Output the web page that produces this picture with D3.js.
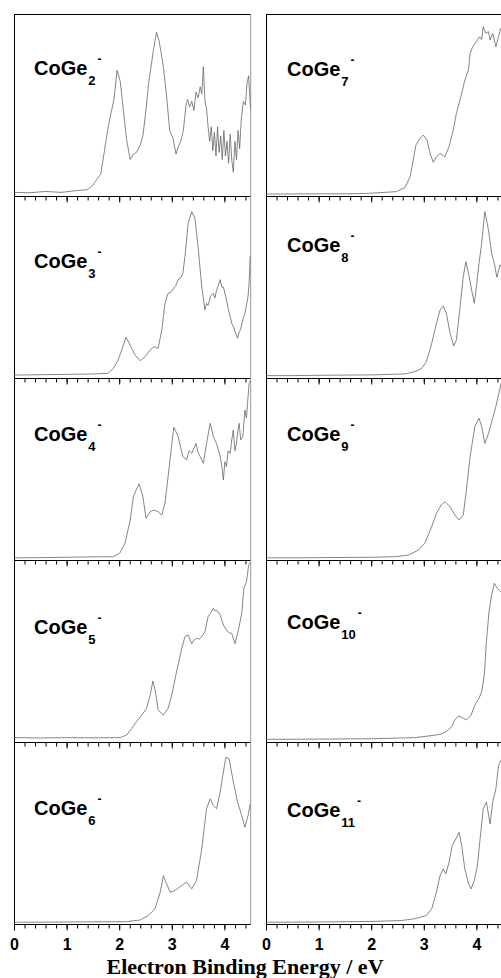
<!DOCTYPE html>
<html>
<head>
<meta charset="utf-8">
<script src="https://cdn.jsdelivr.net/npm/d3@7"></script>
<style>
  body { margin: 0; background: #fff; }
  text { fill: #000; }
</style>
</head>
<body>
<svg id="chart" width="501" height="978"></svg>
<script>
"use strict";

// photoelectron spectra, [binding energy (eV), relative intensity]
const coge2 = [[0,0.02],[0.3,0.018],[0.6,0.025],[0.9,0.02],[1.2,0.03],[1.4,0.035],[1.5,0.06],[1.57,0.09],[1.65,0.12],[1.72,0.25],[1.78,0.36],[1.84,0.45],[1.9,0.53],[1.96,0.69],[2.02,0.63],[2.08,0.47],[2.14,0.31],[2.21,0.2],[2.27,0.23],[2.33,0.24],[2.4,0.28],[2.45,0.33],[2.5,0.45],[2.56,0.62],[2.65,0.8],[2.71,0.9],[2.76,0.85],[2.84,0.71],[2.9,0.55],[2.96,0.36],[3.02,0.32],[3.08,0.23],[3.12,0.27],[3.17,0.3],[3.22,0.36],[3.27,0.5],[3.3,0.53],[3.34,0.49],[3.38,0.52],[3.42,0.47],[3.46,0.57],[3.5,0.54],[3.54,0.6],[3.57,0.56],[3.6,0.71],[3.63,0.52],[3.66,0.48],[3.69,0.38],[3.72,0.3],[3.75,0.38],[3.78,0.25],[3.81,0.35],[3.84,0.22],[3.87,0.38],[3.9,0.24],[3.93,0.33],[3.96,0.2],[3.99,0.36],[4.02,0.22],[4.05,0.3],[4.08,0.18],[4.11,0.34],[4.14,0.2],[4.17,0.13],[4.2,0.3],[4.23,0.2],[4.26,0.36],[4.29,0.26],[4.32,0.42],[4.36,0.52],[4.4,0.5],[4.43,0.62],[4.46,0.66],[4.48,0.56],[4.5,0.47]];
const coge3 = [[0,0.016],[0.5,0.018],[1.0,0.02],[1.5,0.022],[1.79,0.026],[1.89,0.053],[1.98,0.099],[2.07,0.172],[2.13,0.224],[2.21,0.18],[2.3,0.126],[2.4,0.095],[2.49,0.117],[2.59,0.154],[2.66,0.172],[2.74,0.163],[2.81,0.264],[2.87,0.41],[2.93,0.465],[2.98,0.47],[3.03,0.49],[3.08,0.51],[3.12,0.54],[3.17,0.55],[3.21,0.575],[3.25,0.667],[3.31,0.85],[3.38,0.914],[3.44,0.877],[3.5,0.72],[3.57,0.5],[3.63,0.374],[3.66,0.41],[3.69,0.4],[3.74,0.45],[3.79,0.465],[3.82,0.44],[3.85,0.48],[3.92,0.54],[3.95,0.5],[3.98,0.5],[4.04,0.43],[4.08,0.37],[4.11,0.337],[4.14,0.3],[4.17,0.282],[4.21,0.25],[4.25,0.218],[4.28,0.25],[4.31,0.27],[4.35,0.32],[4.39,0.355],[4.42,0.4],[4.45,0.45],[4.47,0.52],[4.49,0.67]];
const coge4 = [[0,0.012],[0.5,0.013],[1.0,0.015],[1.63,0.018],[1.89,0.018],[2.01,0.037],[2.11,0.092],[2.21,0.22],[2.27,0.348],[2.32,0.384],[2.38,0.418],[2.45,0.348],[2.51,0.229],[2.59,0.265],[2.66,0.275],[2.74,0.265],[2.81,0.247],[2.87,0.311],[2.93,0.458],[3.0,0.64],[3.04,0.729],[3.12,0.678],[3.21,0.568],[3.28,0.55],[3.33,0.6],[3.38,0.586],[3.46,0.64],[3.5,0.59],[3.54,0.568],[3.6,0.531],[3.66,0.64],[3.73,0.751],[3.79,0.678],[3.85,0.64],[3.89,0.6],[3.92,0.568],[3.95,0.52],[3.98,0.44],[4.01,0.54],[4.04,0.513],[4.07,0.6],[4.11,0.586],[4.14,0.66],[4.17,0.714],[4.2,0.6],[4.23,0.64],[4.26,0.72],[4.28,0.751],[4.31,0.66],[4.35,0.678],[4.39,0.824],[4.42,0.78],[4.44,0.86],[4.47,0.97],[4.5,0.99]];
const coge5 = [[0,0.024],[0.5,0.022],[1.0,0.024],[1.5,0.023],[2.02,0.024],[2.14,0.038],[2.24,0.075],[2.33,0.112],[2.43,0.148],[2.52,0.185],[2.59,0.258],[2.64,0.335],[2.69,0.276],[2.74,0.176],[2.84,0.148],[2.93,0.185],[3.0,0.258],[3.09,0.386],[3.19,0.515],[3.25,0.579],[3.31,0.588],[3.38,0.54],[3.42,0.56],[3.47,0.57],[3.52,0.565],[3.57,0.579],[3.63,0.606],[3.69,0.689],[3.74,0.71],[3.79,0.735],[3.82,0.72],[3.85,0.725],[3.92,0.698],[3.98,0.643],[4.04,0.615],[4.09,0.6],[4.14,0.597],[4.2,0.54],[4.26,0.606],[4.33,0.707],[4.37,0.845],[4.42,0.881],[4.46,0.97],[4.5,0.99]];
const coge6 = [[0,0.01],[0.5,0.01],[1.0,0.011],[1.5,0.012],[2.14,0.013],[2.4,0.022],[2.55,0.046],[2.68,0.083],[2.78,0.175],[2.84,0.266],[2.9,0.221],[2.97,0.175],[3.06,0.184],[3.19,0.212],[3.28,0.23],[3.38,0.193],[3.47,0.239],[3.57,0.413],[3.66,0.633],[3.73,0.688],[3.79,0.651],[3.85,0.633],[3.92,0.725],[3.98,0.834],[4.03,0.917],[4.09,0.907],[4.17,0.78],[4.25,0.67],[4.33,0.596],[4.39,0.532],[4.45,0.596],[4.49,0.66]];
const coge7 = [[0,0.011],[0.5,0.011],[1.0,0.012],[1.5,0.012],[1.91,0.014],[2.48,0.024],[2.64,0.046],[2.74,0.106],[2.8,0.198],[2.85,0.28],[2.93,0.317],[2.99,0.335],[3.06,0.308],[3.12,0.234],[3.18,0.185],[3.24,0.216],[3.31,0.234],[3.4,0.216],[3.48,0.271],[3.56,0.363],[3.62,0.454],[3.72,0.564],[3.78,0.637],[3.85,0.692],[3.88,0.784],[3.93,0.82],[4.0,0.848],[4.06,0.875],[4.1,0.86],[4.13,0.93],[4.18,0.894],[4.23,0.903],[4.26,0.857],[4.31,0.894],[4.37,0.82],[4.42,0.875],[4.46,0.92],[4.5,0.9]];
const coge8 = [[0,0.013],[0.5,0.013],[1.0,0.015],[2.0,0.017],[2.64,0.022],[2.83,0.035],[2.96,0.053],[3.05,0.09],[3.15,0.19],[3.24,0.3],[3.31,0.374],[3.37,0.396],[3.43,0.355],[3.5,0.245],[3.57,0.176],[3.62,0.209],[3.69,0.392],[3.75,0.557],[3.8,0.639],[3.85,0.575],[3.91,0.483],[3.96,0.41],[4.0,0.502],[4.05,0.63],[4.1,0.74],[4.16,0.914],[4.23,0.813],[4.29,0.685],[4.34,0.63],[4.39,0.553],[4.45,0.621],[4.5,0.6]];
const coge9 = [[0,0.012],[0.5,0.012],[1.0,0.013],[2.0,0.015],[2.45,0.018],[2.71,0.027],[2.9,0.055],[3.02,0.092],[3.15,0.183],[3.24,0.256],[3.33,0.302],[3.4,0.32],[3.5,0.293],[3.59,0.247],[3.67,0.22],[3.75,0.247],[3.81,0.385],[3.88,0.568],[3.92,0.64],[3.97,0.733],[4.05,0.779],[4.1,0.733],[4.16,0.64],[4.23,0.695],[4.3,0.77],[4.37,0.843],[4.42,0.907],[4.47,0.97],[4.5,0.99]];
const coge10 = [[0,0.015],[0.5,0.015],[1.0,0.016],[2.0,0.018],[2.83,0.024],[3.09,0.033],[3.31,0.042],[3.43,0.057],[3.53,0.084],[3.59,0.121],[3.66,0.143],[3.73,0.134],[3.81,0.121],[3.9,0.148],[3.97,0.203],[4.05,0.24],[4.1,0.276],[4.15,0.368],[4.19,0.551],[4.24,0.716],[4.29,0.808],[4.34,0.872],[4.4,0.844],[4.46,0.826],[4.5,0.82]];
const coge11 = [[0,0.01],[0.5,0.01],[1.0,0.011],[2.0,0.014],[2.58,0.019],[2.83,0.029],[3.05,0.047],[3.15,0.083],[3.24,0.175],[3.31,0.266],[3.37,0.303],[3.42,0.275],[3.48,0.339],[3.54,0.431],[3.61,0.468],[3.67,0.504],[3.72,0.431],[3.78,0.303],[3.85,0.221],[3.9,0.193],[3.96,0.239],[4.02,0.321],[4.07,0.468],[4.13,0.633],[4.19,0.67],[4.26,0.55],[4.31,0.67],[4.37,0.742],[4.42,0.87],[4.47,0.9],[4.5,0.92]];

const spectra = [coge2, coge3, coge4, coge5, coge6, coge7, coge8, coge9, coge10, coge11];
const clusterSizes = ["2", "3", "4", "5", "6", "7", "8", "9", "10", "11"];
const majorTicks = [0, 1, 2, 3, 4];
const minorTicks = d3.range(0, 4.41, 0.2);
const axisTitle = "Electron Binding Energy / eV";

// layout
const colLeft = [14, 266];
const labelLeft = [34, 287];
const panelTop = 14, panelH = 182, rows = 5;
const pxPerEv = 52.6;
const labelDy = [61, 72, 63, 74, 73, 62, 56, 63, 69, 75];

const svg = d3.select("#chart");

spectra.forEach(function(data, i) {
  const col = Math.floor(i / rows);
  const row = i % rows;
  const x0 = colLeft[col];
  const top = panelTop + row * panelH;
  const bottom = top + panelH;

  const x = d3.scaleLinear().domain([0, 4.5]).range([x0, x0 + 4.5 * pxPerEv]);
  const y = d3.scaleLinear().domain([0, 1]).range([bottom, top]);

  const g = svg.append("g").attr("class", "panel");

  g.append("clipPath").attr("id", "clip" + i)
    .append("rect")
    .attr("x", x0).attr("y", top)
    .attr("width", 4.5 * pxPerEv).attr("height", panelH);

  // frame: top, left, right border
  if (row == 0) {
    g.append("line")
      .attr("x1", x0).attr("x2", x(4.5))
      .attr("y1", top + 0.5).attr("y2", top + 0.5)
      .attr("stroke", "#000").attr("stroke-width", 1);
  }
  g.append("line")
    .attr("x1", x0 + 0.5).attr("x2", x0 + 0.5)
    .attr("y1", top).attr("y2", bottom)
    .attr("stroke", "#000").attr("stroke-width", 1);
  g.append("line")
    .attr("x1", x(4.5)).attr("x2", x(4.5))
    .attr("y1", top).attr("y2", bottom)
    .attr("stroke", "#999").attr("stroke-width", 1);

  // spectrum
  const line = d3.line()
    .x(function(d) { return x(d[0]); })
    .y(function(d) { return y(d[1]); });

  g.append("path")
    .datum(data)
    .attr("clip-path", "url(#clip" + i + ")")
    .attr("fill", "none")
    .attr("stroke", "#666")
    .attr("stroke-width", 0.8)
    .attr("stroke-linejoin", "round")
    .attr("d", line);

  // bottom axis, ticks pointing down
  const minorAxis = d3.axisBottom(x).tickValues(minorTicks).tickSize(4).tickFormat("");
  const gMinor = g.append("g")
    .attr("transform", "translate(0," + (bottom + 0.5) + ")")
    .call(minorAxis);
  gMinor.select(".domain").remove();

  const majorAxis = d3.axisBottom(x).tickValues(majorTicks).tickSize(6).tickPadding(8)
    .tickFormat(row == rows - 1 ? d3.format("d") : "");
  const gMajor = g.append("g")
    .attr("transform", "translate(0," + (bottom + 0.5) + ")")
    .call(majorAxis);
  gMajor.select(".domain")
    .attr("d", "M" + x0 + ",0H" + x(4.5));
  gMajor.selectAll("text")
    .attr("font-family", "'Liberation Sans', Arial, sans-serif")
    .attr("font-weight", "bold")
    .attr("font-size", "16px")
    .attr("fill", "#000");
  svg.selectAll(".tick line").attr("stroke", "#000");

  // label, e.g. CoGe2-
  const label = g.append("text")
    .attr("x", labelLeft[col])
    .attr("y", top + labelDy[i])
    .attr("font-family", "'Liberation Sans', Arial, sans-serif")
    .attr("font-weight", "bold");
  label.append("tspan").attr("font-size", "20px").text("CoGe");
  label.append("tspan").attr("font-size", "13px").attr("dx", 1).attr("dy", 10).text(clusterSizes[i]);
  label.append("tspan").attr("font-size", "12px").attr("dx", 2).attr("dy", -22).text("-");
});

svg.append("text")
  .attr("x", 245)
  .attr("y", 974)
  .attr("text-anchor", "middle")
  .attr("font-family", "'Liberation Serif', 'Times New Roman', serif")
  .attr("font-weight", "bold")
  .attr("font-size", "22px")
  .text(axisTitle);
</script>
</body>
</html>
